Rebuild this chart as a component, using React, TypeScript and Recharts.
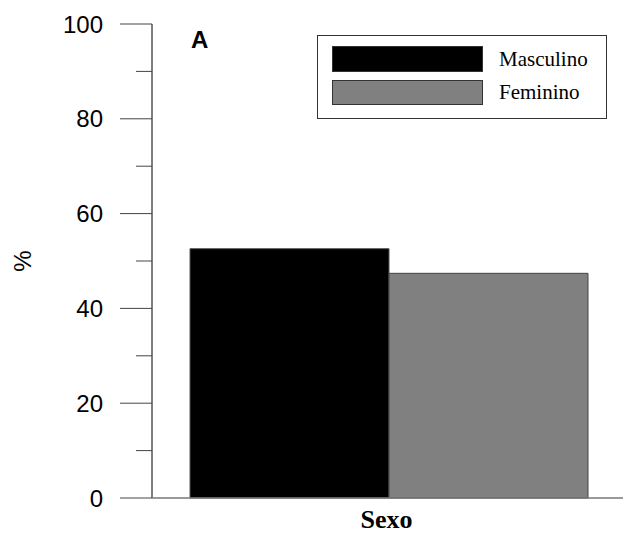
import { Bar, BarChart, Legend, XAxis, YAxis } from "recharts";

const categories = ["Sexo"];
const masculino = [52.6];
const feminino = [47.4];
const seriesOrder = ["Masculino", "Feminino"];
const yTicks = [0, 10, 20, 30, 40, 50, 60, 70, 80, 90, 100];

const data = categories.map((c, i) => ({
  cat: c,
  Masculino: masculino[i],
  Feminino: feminino[i],
}));

const SANS = "'Liberation Sans', Arial, sans-serif";
const SERIF = "'Liberation Serif', 'Times New Roman', serif";

function YTick({ x, y, payload }: any) {
  const major = payload.value % 20 === 0;
  return (
    <g>
      <line
        x1={x - (major ? 32 : 16)}
        x2={x}
        y1={y}
        y2={y}
        stroke="#444"
        strokeWidth={1}
      />
      {major && (
        <text
          x={x - 49}
          y={y}
          dy={8.5}
          textAnchor="end"
          fontFamily={SANS}
          fontSize={24}
          fill="#000"
        >
          {payload.value}
        </text>
      )}
    </g>
  );
}

function XTick({ x, payload }: any) {
  return (
    <text
      x={x - 2}
      y={528}
      textAnchor="middle"
      fontFamily={SERIF}
      fontWeight="bold"
      fontSize={26}
      fill="#000"
    >
      {payload.value}
    </text>
  );
}

function LegendBox({ payload }: any) {
  const items = [...(payload || [])].sort(
    (a: any, b: any) => seriesOrder.indexOf(a.value) - seriesOrder.indexOf(b.value)
  );
  return (
    <div
      style={{
        width: 288,
        height: 82,
        border: "1px solid #333",
        background: "#fff",
        position: "relative",
      }}
    >
      {items.map((p: any, i: number) => (
        <div
          key={p.value}
          style={{
            position: "absolute",
            left: 14,
            top: i === 0 ? 10 : 43,
            height: 26,
            display: "flex",
            alignItems: "center",
          }}
        >
          <div
            style={{
              width: 149,
              height: i === 0 ? 24 : 23,
              background: p.color,
              border: "1px solid #333",
            }}
          />
          <span
            style={{
              marginLeft: 16,
              fontFamily: SERIF,
              fontSize: 21,
              color: "#000",
              lineHeight: "26px",
            }}
          >
            {p.value}
          </span>
        </div>
      ))}
    </div>
  );
}

export default function App() {
  return (
    <div
      style={{
        position: "relative",
        width: 623,
        height: 534,
        overflow: "hidden",
        background: "#fff",
      }}
    >
      <style>{"body{margin:0}"}</style>
      <BarChart
        width={625}
        height={534}
        data={data}
        margin={{ top: 24, right: 0, bottom: 0, left: 0 }}
        barCategoryGap={38}
        barGap={0}
      >
        <YAxis
          type="number"
          domain={[0, 100]}
          ticks={yTicks}
          interval={0}
          width={152}
          tickSize={0}
          tickMargin={0}
          tickLine={false}
          tick={<YTick />}
          axisLine={{ stroke: "#000", strokeWidth: 1 }}
          label={{
            content: () => (
              <text
                x={31}
                y={261}
                transform="rotate(-90, 31, 261)"
                textAnchor="middle"
                fontFamily={SANS}
                fontSize={24}
                fill="#000"
              >
                %
              </text>
            ),
          }}
        />
        <XAxis
          dataKey="cat"
          height={36}
          tickLine={false}
          tick={<XTick />}
          axisLine={{ stroke: "#777", strokeWidth: 1.5 }}
        />
        <Legend
          layout="horizontal"
          verticalAlign="middle"
          align="center"
          content={<LegendBox />}
          wrapperStyle={{ left: 317, top: 35, width: 290 }}
        />
        <Bar
          dataKey="Masculino"
          fill="#000000"
          stroke="#555"
          strokeWidth={1}
          isAnimationActive={false}
        />
        <Bar
          dataKey="Feminino"
          fill="#808080"
          stroke="#444"
          strokeWidth={1}
          isAnimationActive={false}
        />
      </BarChart>
      <div
        style={{
          position: "absolute",
          left: 191,
          top: 26,
          fontFamily: SANS,
          fontWeight: "bold",
          fontSize: 24,
          lineHeight: "28px",
          color: "#000",
        }}
      >
        A
      </div>
    </div>
  );
}
